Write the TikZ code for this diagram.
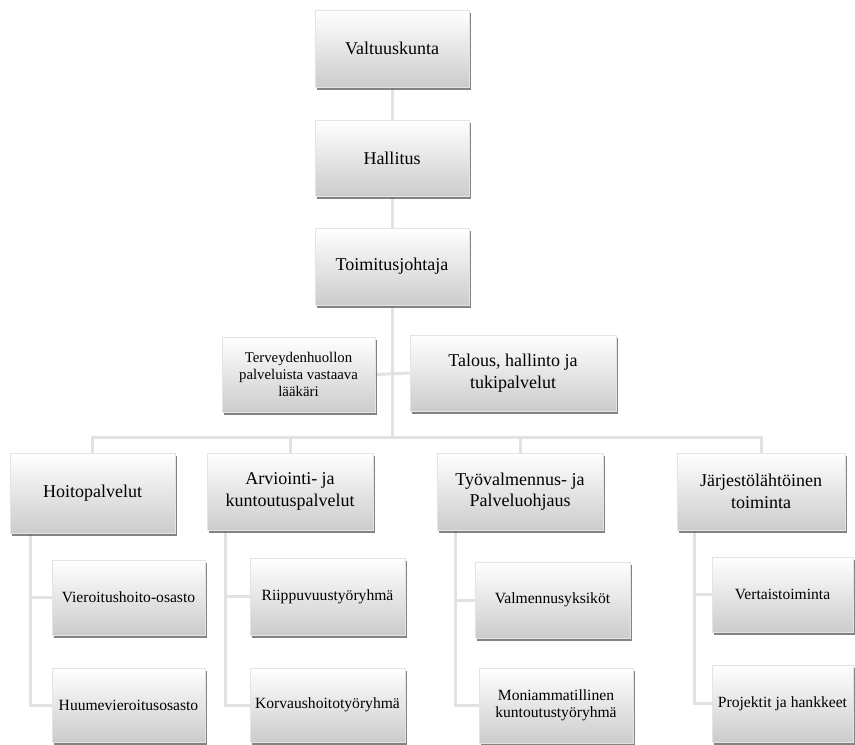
\documentclass[tikz,border=0pt]{standalone}
\usepackage{fontspec}
\setmainfont{LiberationSerif-Regular.ttf}[BoldFont=LiberationSerif-Bold.ttf]
\usetikzlibrary{shadows,backgrounds}
\definecolor{connc}{HTML}{E2E2E2}
\definecolor{boxedge}{HTML}{E4E4E4}
\tikzset{
  box/.style={rectangle, draw=boxedge, line width=0.6pt, top color=white, bottom color=gray!40,
    drop shadow={shadow xshift=2pt, shadow yshift=-2.6pt, opacity=0.75, fill=black!65},
    align=center, inner sep=2pt, text=black},
  bigtxt/.style={font=\rmfamily\fontsize{18}{21.5}\selectfont},
  midtxt/.style={font=\rmfamily\fontsize{14.8}{16.7}\selectfont},
  smalltxt/.style={font=\rmfamily\fontsize{15.6}{16.8}\selectfont},
  conn/.style={draw=connc, line width=3pt},
}
\begin{document}
\begin{tikzpicture}[x=1pt,y=-1pt]
\useasboundingbox (0,0) rectangle (855,745);
% top chain
\node[box,bigtxt,minimum width=154,minimum height=77] (val) at (392,48.5) {Valtuuskunta};
\node[box,bigtxt,minimum width=154,minimum height=76] (hal) at (392,158) {Hallitus};
\node[box,bigtxt,minimum width=154,minimum height=77] (toi) at (392,266.5) {Toimitusjohtaja};
% staff level
\node[box,midtxt,minimum width=153,minimum height=75] (ter) at (298.5,374.5) {Terveydenhuollon\\palveluista vastaava\\lääkäri};
\node[box,bigtxt,minimum width=206,minimum height=76] (tal) at (513,373) {Talous, hallinto ja\\tukipalvelut};
% second level
\node[box,bigtxt,minimum width=165,minimum height=80] (hoi) at (92.5,493) {Hoitopalvelut};
\node[box,bigtxt,minimum width=166,minimum height=77] (arv) at (290,491.5) {Arviointi- ja\\kuntoutuspalvelut};
\node[box,bigtxt,minimum width=166,minimum height=77] (tyo) at (520,491.5) {Työvalmennus- ja\\Palveluohjaus};
\node[box,bigtxt,minimum width=168,minimum height=77] (jar) at (761,491.5) {Järjestölähtöinen\\toiminta};
% children
\node[box,smalltxt,minimum width=153,minimum height=75] (vie) at (128.5,597.5) {Vieroitushoito-osasto};
\node[box,smalltxt,minimum width=153,minimum height=74] (huu) at (128.5,705) {Huumevieroitusosasto};
\node[box,smalltxt,minimum width=155,minimum height=77] (rii) at (327.5,596.5) {Riippuvuustyöryhmä};
\node[box,smalltxt,minimum width=155,minimum height=74] (kor) at (327.5,705) {Korvaushoitotyöryhmä};
\node[box,smalltxt,minimum width=155,minimum height=76] (vam) at (552.5,600) {Valmennusyksiköt};
\node[box,smalltxt,minimum width=154,minimum height=75] (mon) at (556,705.5) {Moniammatillinen\\kuntoutustyöryhmä};
\node[box,smalltxt,minimum width=141,minimum height=75] (ver) at (782.5,594.5) {Vertaistoiminta};
\node[box,smalltxt,minimum width=141,minimum height=77] (pro) at (782.5,703.5) {Projektit ja hankkeet};
% helper coordinates
\coordinate (bus) at (392,437);
\coordinate (hx) at (30,0);
\coordinate (ax) at (225,0);
\coordinate (tx) at (455,0);
\coordinate (jx) at (694,0);
\begin{scope}[on background layer]
\draw[conn] (val.south) -- (hal.north);
\draw[conn] (hal.south) -- (toi.north);
\draw[conn] (toi.south) -- (bus);
\draw[conn] (ter.east) -- (tal.west);
\draw[conn] (hoi.north) |- (jar.north |- bus) -- (jar.north);
\draw[conn] (arv.north) -- (arv.north |- bus);
\draw[conn] (tyo.north) -- (tyo.north |- bus);
\draw[conn] (hoi.south -| hx) |- (huu.west);
\draw[conn] (vie.west -| hx) -- (vie.west);
\draw[conn] (arv.south -| ax) |- (kor.west);
\draw[conn] (rii.west -| ax) -- (rii.west);
\draw[conn] (tyo.south -| tx) |- (mon.west);
\draw[conn] (vam.west -| tx) -- (vam.west);
\draw[conn] (jar.south -| jx) |- (pro.west);
\draw[conn] (ver.west -| jx) -- (ver.west);
\end{scope}
\end{tikzpicture}
\end{document}
